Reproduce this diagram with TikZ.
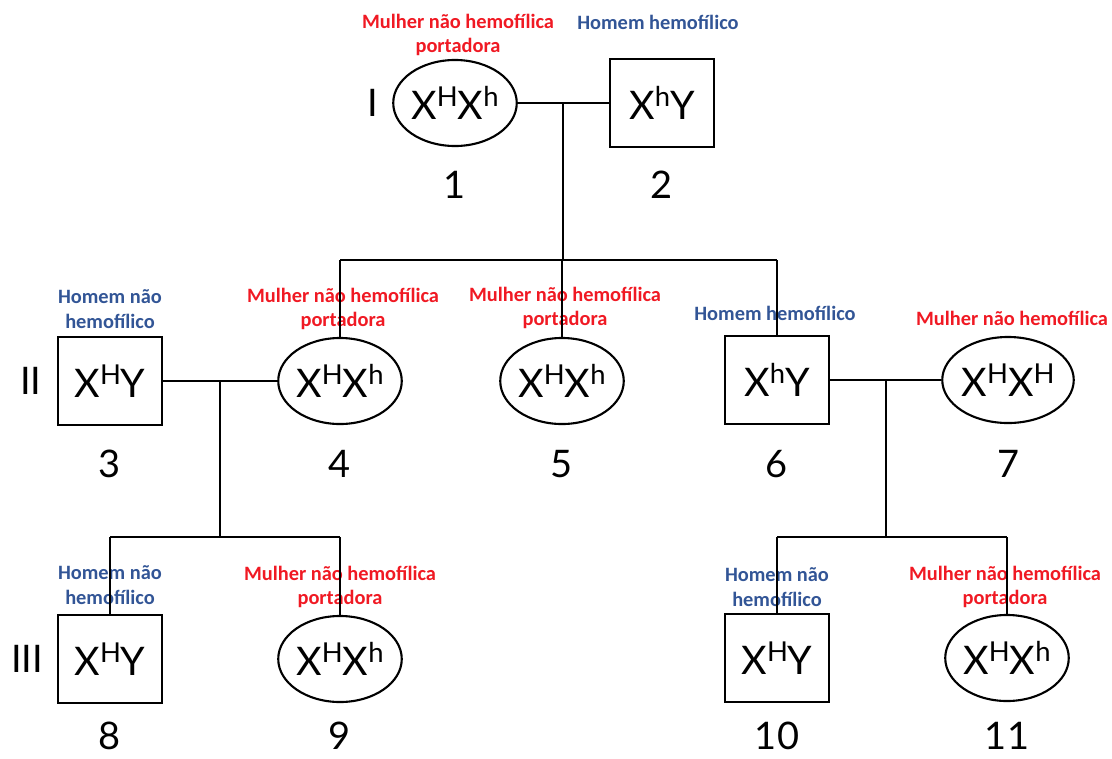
\documentclass[tikz,border=0pt]{standalone}
\usepackage{fontspec}
\setmainfont{Lato}
\newfontfamily\labfont{Carlito}
\usetikzlibrary{calc, shapes.geometric}

\definecolor{labred}{RGB}{240,25,35}
\definecolor{labblue}{RGB}{50,85,150}

% genotype letter with superscript allele
\newcommand{\xal}[1]{X\raisebox{9.4pt}{\fontsize{19.5}{20}\selectfont #1}}

\begin{document}
\begin{tikzpicture}[
  x=0.025cm, y=-0.025cm,
  male/.style={rectangle, draw, line width=1.5pt, minimum width=2.62cm,
               minimum height=2.22cm, inner sep=0pt, font=\fontsize{28}{30}\selectfont},
  female/.style={ellipse, draw, line width=1.5pt, minimum width=3.0cm,
                 minimum height=2.15cm, inner sep=0pt, font=\fontsize{28}{30}\selectfont},
  num/.style={inner sep=1pt, font=\fontsize{27}{28}\selectfont},
  redlab/.style={font=\labfont\bfseries\fontsize{14.5}{17.5}\selectfont,
                 text=labred, align=center},
  bluelab/.style={font=\labfont\bfseries\fontsize{14.5}{17.5}\selectfont,
                  text=labblue, align=center},
  link/.style={line width=1.3pt},
]
\useasboundingbox (0,0) rectangle (1112,758);

% ---- geracao I ----
\node[num] (gI)  at (373,103) {I};
\node[female] (p1) at (455,103) {\xal{H}\xal{h}};
\node[male]   (p2) at (662,103) {\xal{h}Y};
\node[num] (n1) at (455,185) {1};
\node[num] (n2) at (662,185) {2};
\node[redlab]  (l1) at (458,35) {Mulher não hemofílica\\portadora};
\node[bluelab] (l2) at (658,22) {Homem hemofílico};

% ---- geracao II ----
\node[num] (gII) at (31,381) {II};
\node[male]   (p3) at (110,381) {\xal{H}Y};
\node[female] (p4) at (340,381) {\xal{H}\xal{h}};
\node[female] (p5) at (562,381) {\xal{H}\xal{h}};
\node[male]   (p6) at (777,380) {\xal{h}Y};
\node[female] (p7) at (1008,380) {\xal{H}\xal{H}};
\node[num] (n3) at (110,464) {3};
\node[num] (n4) at (340,464) {4};
\node[num] (n5) at (562,464) {5};
\node[num] (n6) at (777,464) {6};
\node[num] (n7) at (1008,464) {7};
\node[bluelab] (l3) at (110,309) {Homem não\\hemofílico};
\node[redlab]  (l4) at (343,309) {Mulher não hemofílica\\portadora};
\node[redlab]  (l5) at (565,308) {Mulher não hemofílica\\portadora};
\node[bluelab] (l6) at (775,313) {Homem hemofílico};
\node[redlab]  (l7) at (1012,318) {Mulher não hemofílica};

% ---- geracao III ----
\node[num] (gIII) at (27,659) {III};
\node[male]   (p8)  at (110,659) {\xal{H}Y};
\node[female] (p9)  at (340,659) {\xal{H}\xal{h}};
\node[male]   (p10) at (777,658) {\xal{H}Y};
\node[female] (p11) at (1007,658) {\xal{H}\xal{h}};
\node[num] (n8)  at (110,736) {8};
\node[num] (n9)  at (340,736) {9};
\node[num] (n10) at (777,736) {10};
\node[num] (n11) at (1007,736) {11};
\node[bluelab] (l8)  at (110,585) {Homem não\\hemofílico};
\node[redlab]  (l9)  at (340,587) {Mulher não hemofílica\\portadora};
\node[bluelab] (l10) at (777,587) {Homem não\\hemofílico};
\node[redlab]  (l11) at (1005,587) {Mulher não hemofílica\\portadora};

% ---- casamentos ----
\draw[link] (p1.east) -- (p2.west);
\draw[link] (p3.east) -- (p4.west);
\draw[link] (p6.east) -- (p7.west);
\coordinate (c12) at ($(p1.east)!0.5!(p2.west)$);
\coordinate (c34) at ($(p3.east)!0.5!(p4.west)$);
\coordinate (c67) at ($(p6.east)!0.5!(p7.west)$);

% ---- irmandades ----
\coordinate (s1) at (562,260);
\coordinate (s2) at (220,537);
\coordinate (s3) at (888,537);
\draw[link] (c12) -- (c12 |- s1);
\draw[link] (c34) -- (c34 |- s2);
\draw[link] (c67) -- (c67 |- s3);
\draw[link] (p4.north |- s1) -- (p6.north |- s1);
\draw[link] (p8.north |- s2) -- (p9.north |- s2);
\draw[link] (p10.north |- s3) -- (p11.north |- s3);
\foreach \c in {p4,p5,p6}
  \draw[link] (\c.north |- s1) -- (\c.north);
\foreach \c in {p8,p9}
  \draw[link] (\c.north |- s2) -- (\c.north);
\foreach \c in {p10,p11}
  \draw[link] (\c.north |- s3) -- (\c.north);

\end{tikzpicture}
\end{document}
